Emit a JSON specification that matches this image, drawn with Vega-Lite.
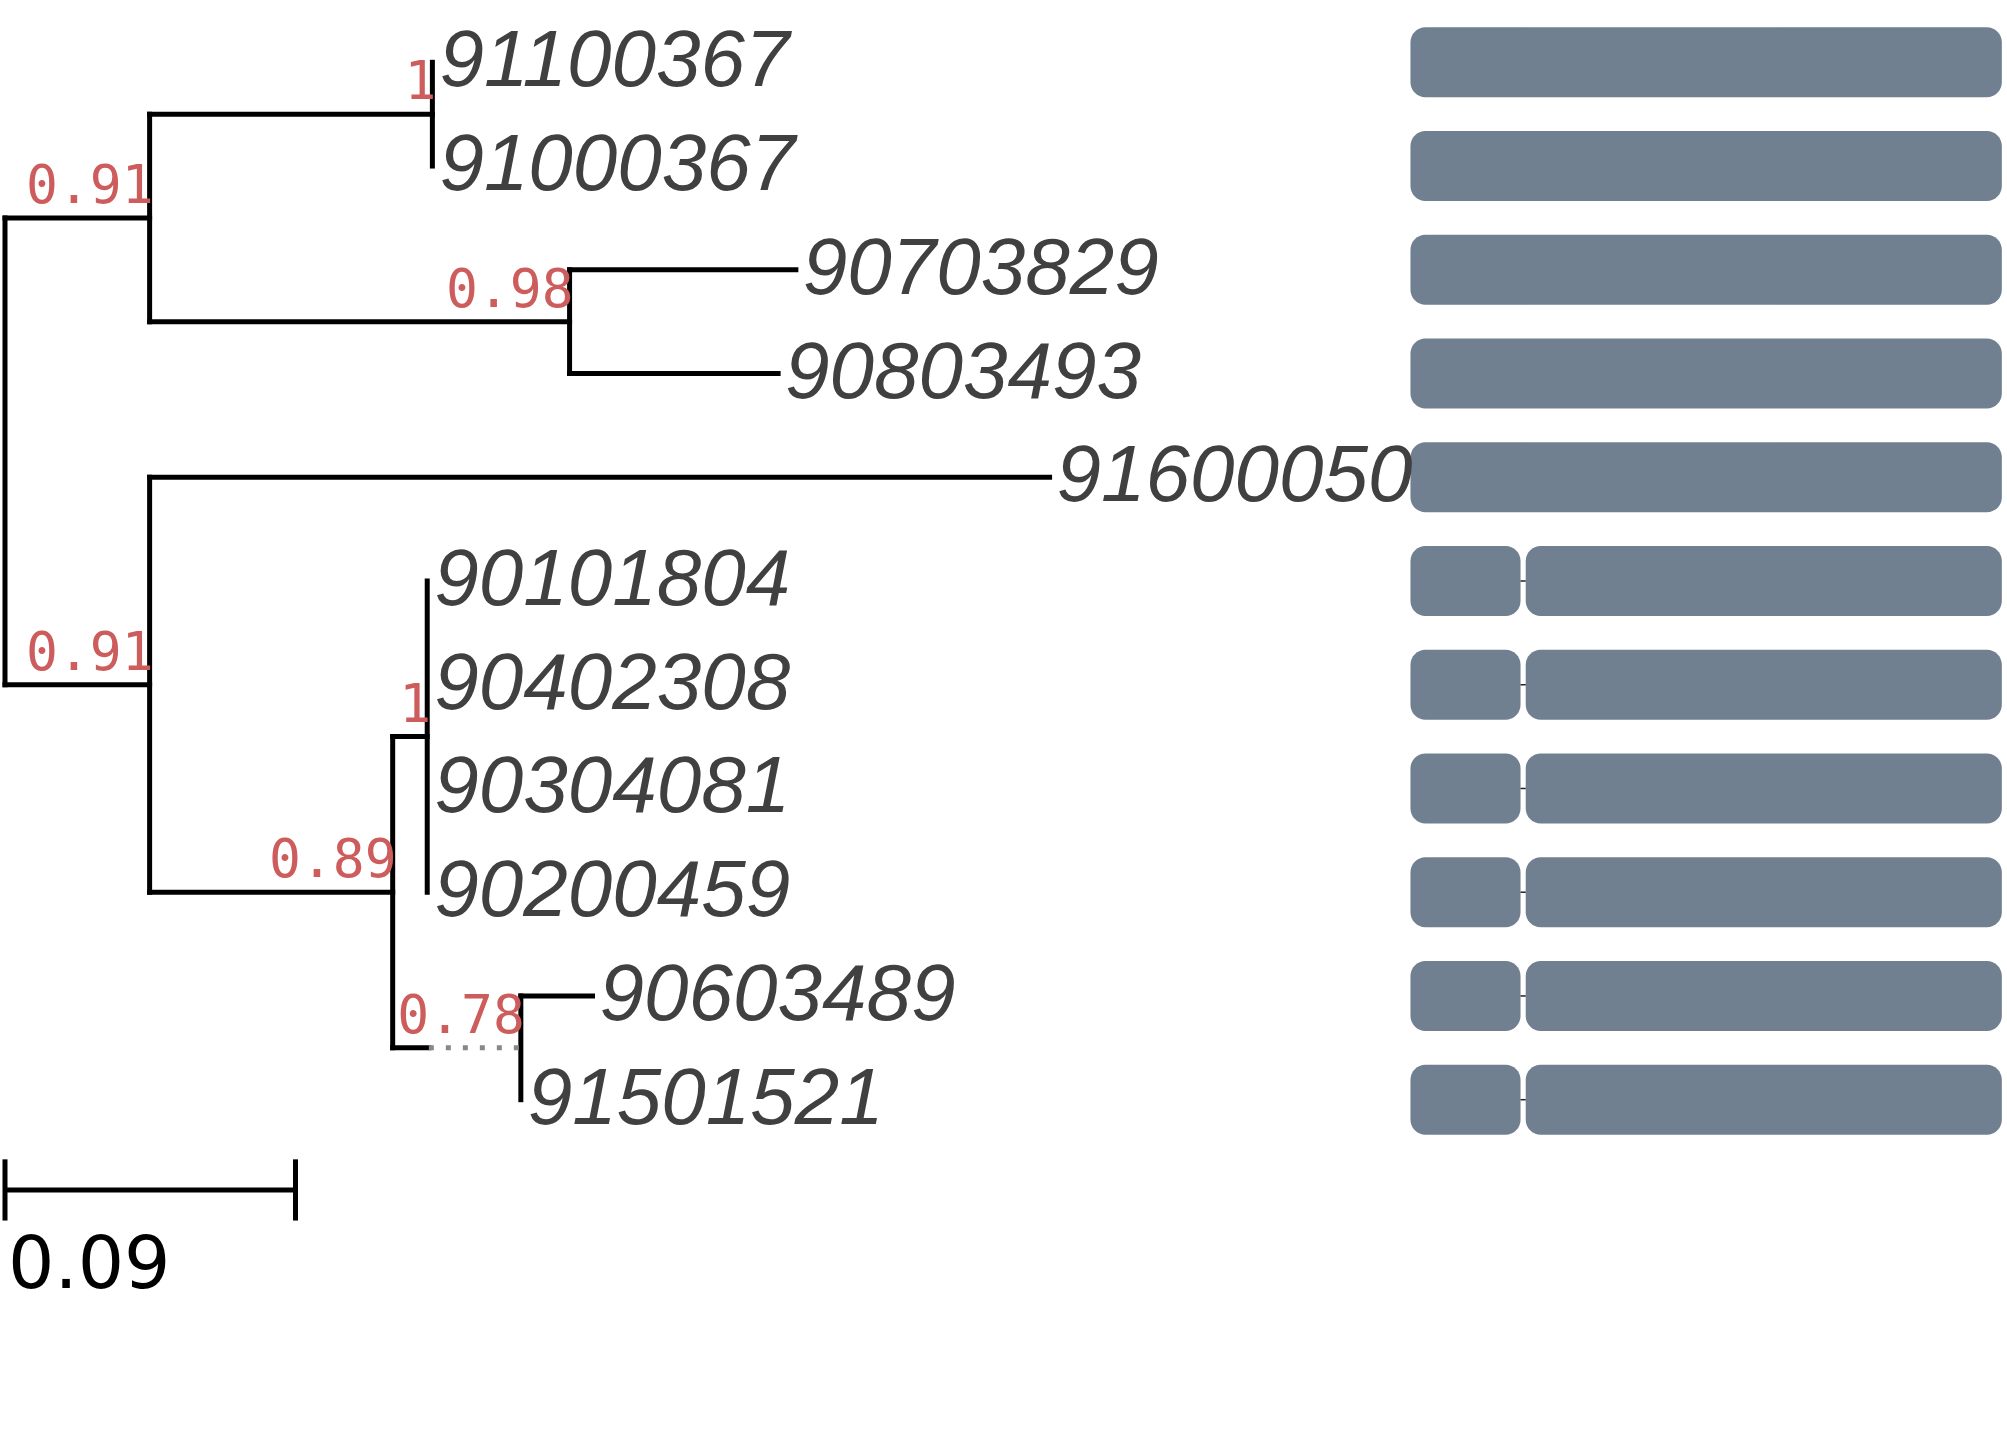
{
  "$schema": "https://vega.github.io/schema/vega-lite/v6.json",
  "width": 2007,
  "height": 1450,
  "padding": 0,
  "autosize": {"type": "fit", "contains": "padding"},
  "background": "white",
  "config": {"view": {"stroke": null}},
  "datasets": {
    "branches": [
      {"x": 0, "x2": 0, "y": 2.5, "y2": 7, "style": "solid"},
      {"x": 0.0448, "x2": 0.0448, "y": 1.5, "y2": 3.5, "style": "solid"},
      {"x": 0.0448, "x2": 0.0448, "y": 5, "y2": 9, "style": "solid"},
      {"x": 0.1324, "x2": 0.1324, "y": 1, "y2": 2, "style": "solid"},
      {"x": 0.1749, "x2": 0.1749, "y": 3, "y2": 4, "style": "solid"},
      {"x": 0.1201, "x2": 0.1201, "y": 7.5, "y2": 10.5, "style": "solid"},
      {"x": 0.1308, "x2": 0.1308, "y": 6, "y2": 9, "style": "solid"},
      {"x": 0.1598, "x2": 0.1598, "y": 10, "y2": 11, "style": "solid"},
      {"x": 0, "x2": 0.0448, "y": 2.5, "y2": 2.5, "style": "solid"},
      {"x": 0, "x2": 0.0448, "y": 7, "y2": 7, "style": "solid"},
      {"x": 0.0448, "x2": 0.1324, "y": 1.5, "y2": 1.5, "style": "solid"},
      {"x": 0.0448, "x2": 0.1749, "y": 3.5, "y2": 3.5, "style": "solid"},
      {"x": 0.1749, "x2": 0.245, "y": 3, "y2": 3, "style": "solid"},
      {"x": 0.1749, "x2": 0.2395, "y": 4, "y2": 4, "style": "solid"},
      {"x": 0.0448, "x2": 0.3236, "y": 5, "y2": 5, "style": "solid"},
      {"x": 0.0448, "x2": 0.1201, "y": 9, "y2": 9, "style": "solid"},
      {"x": 0.1201, "x2": 0.1308, "y": 7.5, "y2": 7.5, "style": "solid"},
      {"x": 0.1201, "x2": 0.1313, "y": 10.5, "y2": 10.5, "style": "solid"},
      {"x": 0.1313, "x2": 0.1598, "y": 10.5, "y2": 10.5, "style": "dotted"},
      {"x": 0.1598, "x2": 0.182, "y": 10, "y2": 10, "style": "solid"}
    ],
    "support": [
      {"x": 0.1324, "row": 1.5, "value": "1"},
      {"x": 0.0448, "row": 2.5, "value": "0.91"},
      {"x": 0.1749, "row": 3.5, "value": "0.98"},
      {"x": 0.0448, "row": 7, "value": "0.91"},
      {"x": 0.1308, "row": 7.5, "value": "1"},
      {"x": 0.1201, "row": 9, "value": "0.89"},
      {"x": 0.1598, "row": 10.5, "value": "0.78"}
    ],
    "leaves": [
      {"row": 1, "x": 0.1324, "label": "91100367"},
      {"row": 2, "x": 0.1324, "label": "91000367"},
      {"row": 3, "x": 0.245, "label": "90703829"},
      {"row": 4, "x": 0.2395, "label": "90803493"},
      {"row": 5, "x": 0.3236, "label": "91600050"},
      {"row": 6, "x": 0.1308, "label": "90101804"},
      {"row": 7, "x": 0.1308, "label": "90402308"},
      {"row": 8, "x": 0.1308, "label": "90304081"},
      {"row": 9, "x": 0.1308, "label": "90200459"},
      {"row": 10, "x": 0.182, "label": "90603489"},
      {"row": 11, "x": 0.1598, "label": "91501521"}
    ],
    "domains": [
      {"row": 1, "start": 0.4354, "end": 0.6186},
      {"row": 2, "start": 0.4354, "end": 0.6186},
      {"row": 3, "start": 0.4354, "end": 0.6186},
      {"row": 4, "start": 0.4354, "end": 0.6186},
      {"row": 5, "start": 0.4354, "end": 0.6186},
      {"row": 6, "start": 0.4354, "end": 0.4695},
      {"row": 6, "start": 0.4711, "end": 0.6186},
      {"row": 7, "start": 0.4354, "end": 0.4695},
      {"row": 7, "start": 0.4711, "end": 0.6186},
      {"row": 8, "start": 0.4354, "end": 0.4695},
      {"row": 8, "start": 0.4711, "end": 0.6186},
      {"row": 9, "start": 0.4354, "end": 0.4695},
      {"row": 9, "start": 0.4711, "end": 0.6186},
      {"row": 10, "start": 0.4354, "end": 0.4695},
      {"row": 10, "start": 0.4711, "end": 0.6186},
      {"row": 11, "start": 0.4354, "end": 0.4695},
      {"row": 11, "start": 0.4711, "end": 0.6186}
    ],
    "links": [
      {"row": 6, "start": 0.4695, "end": 0.4711},
      {"row": 7, "start": 0.4695, "end": 0.4711},
      {"row": 8, "start": 0.4695, "end": 0.4711},
      {"row": 9, "start": 0.4695, "end": 0.4711},
      {"row": 10, "start": 0.4695, "end": 0.4711},
      {"row": 11, "start": 0.4695, "end": 0.4711}
    ],
    "scalebar": [
      {"x": 0, "x2": 0.09, "y": 11.87, "y2": 11.87},
      {"x": 0, "x2": 0, "y": 11.575, "y2": 12.165},
      {"x": 0.09, "x2": 0.09, "y": 11.575, "y2": 12.165}
    ],
    "scalelabel": [
      {"x": 0, "row": 12.6, "label": "0.09"}
    ]
  },
  "layer": [
    {
      "data": {"name": "domains"},
      "mark": {"type": "bar", "height": 70, "cornerRadius": 15, "color": "#708090"},
      "encoding": {
        "x": {"field": "start", "type": "quantitative", "axis": null,
              "scale": {"domain": [-0.00155, 0.6202], "nice": false, "zero": false}},
        "x2": {"field": "end"},
        "y": {"field": "row", "type": "quantitative", "axis": null,
              "scale": {"domain": [0.4476, 14.3286], "reverse": true, "nice": false, "zero": false}}
      }
    },
    {
      "data": {"name": "links"},
      "mark": {"type": "rule", "color": "#222222", "strokeWidth": 1.5},
      "encoding": {
        "x": {"field": "start", "type": "quantitative"},
        "x2": {"field": "end"},
        "y": {"field": "row", "type": "quantitative"}
      }
    },
    {
      "data": {"name": "branches"},
      "transform": [{"filter": "datum.style == 'solid'"}],
      "mark": {"type": "rule", "color": "black", "strokeWidth": 5, "strokeCap": "square"},
      "encoding": {
        "x": {"field": "x", "type": "quantitative"},
        "x2": {"field": "x2"},
        "y": {"field": "y", "type": "quantitative"},
        "y2": {"field": "y2"}
      }
    },
    {
      "data": {"name": "branches"},
      "transform": [{"filter": "datum.style == 'dotted'"}],
      "mark": {"type": "rule", "color": "#888888", "strokeWidth": 5, "strokeDash": [5, 12]},
      "encoding": {
        "x": {"field": "x", "type": "quantitative"},
        "x2": {"field": "x2"},
        "y": {"field": "y", "type": "quantitative"},
        "y2": {"field": "y2"}
      }
    },
    {
      "data": {"name": "support"},
      "mark": {"type": "text", "align": "right", "baseline": "alphabetic", "dy": -15, "dx": 4,
               "font": "DejaVu Sans Mono", "fontSize": 53, "color": "#cd5c5c"},
      "encoding": {
        "x": {"field": "x", "type": "quantitative"},
        "y": {"field": "row", "type": "quantitative"},
        "text": {"field": "value"}
      }
    },
    {
      "data": {"name": "leaves"},
      "mark": {"type": "text", "align": "left", "baseline": "middle", "dx": 7,
               "font": "Liberation Sans", "fontStyle": "italic", "fontSize": 80, "color": "#404040"},
      "encoding": {
        "x": {"field": "x", "type": "quantitative"},
        "y": {"field": "row", "type": "quantitative"},
        "text": {"field": "label"}
      }
    },
    {
      "data": {"name": "scalebar"},
      "mark": {"type": "rule", "color": "black", "strokeWidth": 5},
      "encoding": {
        "x": {"field": "x", "type": "quantitative"},
        "x2": {"field": "x2"},
        "y": {"field": "y", "type": "quantitative"},
        "y2": {"field": "y2"}
      }
    },
    {
      "data": {"name": "scalelabel"},
      "mark": {"type": "text", "align": "left", "baseline": "middle", "dx": 3,
               "font": "DejaVu Sans", "fontSize": 73, "color": "black"},
      "encoding": {
        "x": {"field": "x", "type": "quantitative"},
        "y": {"field": "row", "type": "quantitative"},
        "text": {"field": "label"}
      }
    }
  ]
}
